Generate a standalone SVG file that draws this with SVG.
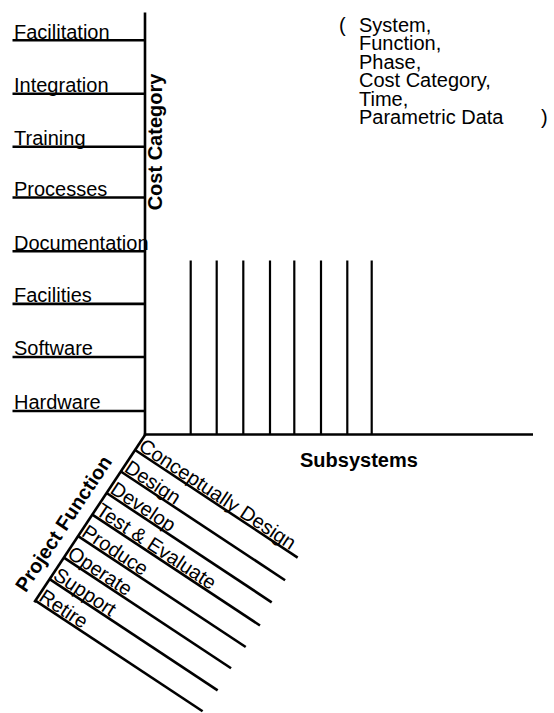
<svg xmlns="http://www.w3.org/2000/svg" width="554" height="713" viewBox="0 0 554 713">
<style>
  text { font-family: "Liberation Sans", Arial, Helvetica, sans-serif; font-size: 20px; fill: #000; }
  .b { font-weight: bold; }
  line { stroke: #000; stroke-width: 2.6; stroke-linecap: butt; }
  .thin { stroke-width: 2.2; }
</style>
<rect width="554" height="713" fill="#fff"/>

<g id="connectors">
  <!-- Cost Category axis -->
  <line x1="145" y1="12.5" x2="145" y2="436"/>
  <!-- Subsystems axis -->
  <line x1="143.8" y1="434.5" x2="533" y2="434.5"/>
  <!-- Subsystem lines -->
  <line class="thin" x1="190.7" y1="260.5" x2="190.7" y2="434"/>
  <line class="thin" x1="216.7" y1="260.5" x2="216.7" y2="434"/>
  <line class="thin" x1="243.3" y1="260.5" x2="243.3" y2="434"/>
  <line class="thin" x1="270" y1="260.5" x2="270" y2="434"/>
  <line class="thin" x1="294.3" y1="260.5" x2="294.3" y2="434"/>
  <line class="thin" x1="321" y1="260.5" x2="321" y2="434"/>
  <line class="thin" x1="347.3" y1="260.5" x2="347.3" y2="434"/>
  <line class="thin" x1="371.7" y1="260.5" x2="371.7" y2="434"/>
</g>

<g id="axis-cost-category">
  <text class="b" transform="translate(161.5,142) rotate(-90)" text-anchor="middle">Cost Category</text>
</g>

<g id="cat-facilitation"><line x1="12.5" y1="40.3" x2="145" y2="40.3"/><text x="14" y="38.5">Facilitation</text></g>
<g id="cat-integration"><line x1="12.5" y1="93.7" x2="145" y2="93.7"/><text x="14" y="91.9">Integration</text></g>
<g id="cat-training"><line x1="12.5" y1="146.7" x2="145" y2="146.7"/><text x="14" y="144.9">Training</text></g>
<g id="cat-processes"><line x1="12.5" y1="197.5" x2="145" y2="197.5"/><text x="14" y="195.7">Processes</text></g>
<g id="cat-documentation"><line x1="12.5" y1="251.3" x2="145" y2="251.3"/><text x="14" y="249.5">Documentation</text></g>
<g id="cat-facilities"><line x1="12.5" y1="303.9" x2="145" y2="303.9"/><text x="14" y="302.1">Facilities</text></g>
<g id="cat-software"><line x1="12.5" y1="357" x2="145" y2="357"/><text x="14" y="355.2">Software</text></g>
<g id="cat-hardware"><line x1="12.5" y1="411" x2="145" y2="411"/><text x="14" y="409.2">Hardware</text></g>

<g id="axis-subsystems">
  <text class="b" x="300" y="466.7">Subsystems</text>
</g>

<g id="axis-project-function">
  <text class="b" transform="translate(91,519) rotate(-56.5)" x="-19" y="-13.6" text-anchor="middle">Project Function</text>
</g>

<g id="functions" transform="translate(145,435) rotate(33.5)">
  <line x1="0" y1="0" x2="0" y2="200.5"/>
  <g id="fn-conceptually-design"><line x1="0" y1="18" x2="195" y2="18"/><text x="1.5" y="16">Conceptually Design</text></g>
  <g id="fn-design"><line x1="0" y1="43.8" x2="197" y2="43.8"/><text x="1.5" y="41.8">Design</text></g>
  <g id="fn-develop"><line x1="0" y1="69.6" x2="198" y2="69.6"/><text x="1.5" y="67.6">Develop</text></g>
  <g id="fn-test-evaluate"><line x1="0" y1="95.4" x2="201" y2="95.4"/><text x="1.5" y="93.4">Test &amp; Evaluate</text></g>
  <g id="fn-produce"><line x1="0" y1="121.2" x2="201" y2="121.2"/><text x="1.5" y="119.2">Produce</text></g>
  <g id="fn-operate"><line x1="0" y1="147" x2="200.5" y2="147"/><text x="1.5" y="145">Operate</text></g>
  <g id="fn-support"><line x1="0" y1="172.8" x2="201.5" y2="172.8"/><text x="1.5" y="170.8">Support</text></g>
  <g id="fn-retire"><line x1="0" y1="198.6" x2="200.5" y2="198.6"/><text x="1.5" y="196.6">Retire</text></g>
</g>

<g id="tuple-label">
  <text x="339" y="31.7">(<tspan x="359">System,</tspan><tspan x="359" y="50.2">Function,</tspan><tspan x="359" y="68.7">Phase,</tspan><tspan x="359" y="87.2">Cost Category,</tspan><tspan x="359" y="105.7">Time,</tspan><tspan x="359" y="124.2">Parametric Data <tspan x="541">)</tspan></tspan></text>
</g>
</svg>
